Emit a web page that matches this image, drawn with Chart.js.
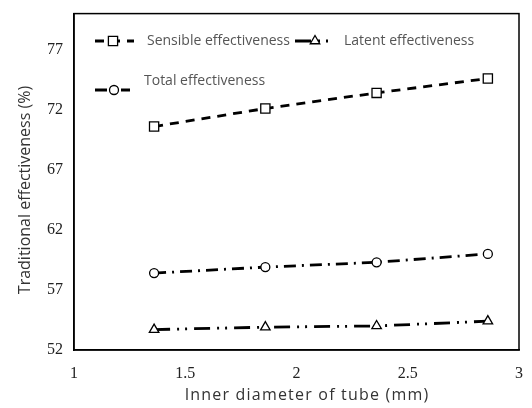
<!DOCTYPE html>
<html><head><meta charset="utf-8">
<script src="https://cdn.jsdelivr.net/npm/chart.js@4.4.1/dist/chart.umd.min.js"></script>
<style>html,body{margin:0;padding:0;background:#fff}#wrap{width:532px;height:408px}</style>
</head><body><div id="wrap"><canvas id="c" width="532" height="408"></canvas></div>
<script>
const diameters = [1.36, 1.86, 2.36, 2.86];
const sensible = [70.6, 72.1, 73.4, 74.6];
const total = [58.4, 58.9, 59.3, 60.0];
const latent = [53.7, 53.9, 54.0, 54.4];
const yTicks = [52, 57, 62, 67, 72, 77];
const xTicks = [1, 1.5, 2, 2.5, 3];
const seriesNames = ['Sensible effectiveness', 'Latent effectiveness', 'Total effectiveness'];
const yTitle = 'Traditional effectiveness (%)';
const xTitle = 'Inner diameter of tube (mm)';

const toPts = arr => arr.map((v, i) => ({x: diameters[i], y: v}));
const base = {showLine: true, borderColor: '#000', borderWidth: 2.8, pointBackgroundColor: '#fff', pointBorderColor: '#000', pointBorderWidth: 1.3, fill: false};
const datasets = [
  Object.assign({}, base, {label: seriesNames[0], data: toPts(sensible), borderDash: [9, 7], pointStyle: 'rect', pointRadius: 6.5}),
  Object.assign({}, base, {label: seriesNames[1], data: toPts(latent), borderDash: [16, 7, 2, 6, 2, 7], pointStyle: 'triangle', pointRadius: 5.5}),
  Object.assign({}, base, {label: seriesNames[2], data: toPts(total), borderDash: [12, 6, 2, 6], pointStyle: 'circle', pointRadius: 4.5})
];

function drawMarker(ctx, style, x, y, r) {
  ctx.save();
  ctx.setLineDash([]);
  ctx.fillStyle = '#fff'; ctx.strokeStyle = '#000'; ctx.lineWidth = 1.3;
  ctx.beginPath();
  if (style === 'rect') { const s = r * Math.SQRT1_2; ctx.rect(x - s, y - s, 2 * s, 2 * s); }
  else if (style === 'circle') { ctx.arc(x, y, r, 0, Math.PI * 2); }
  else { ctx.moveTo(x, y - r); ctx.lineTo(x + r * 0.866, y + r * 0.5); ctx.lineTo(x - r * 0.866, y + r * 0.5); ctx.closePath(); }
  ctx.fill(); ctx.stroke();
  ctx.restore();
}

const customLegend = {
  id: 'customLegend',
  afterDatasetsDraw(chart) {
    const ctx = chart.ctx;
    const items = [
      {ds: 0, x1: 95, x2: 134, mx: 113, my: 41, tx: 147, ty: 41},
      {ds: 1, x1: 295, x2: 334, mx: 315, my: 41, tx: 344, ty: 41},
      {ds: 2, x1: 95, x2: 130, mx: 114, my: 90, tx: 144, ty: 81}
    ];
    items.forEach(it => {
      const d = chart.data.datasets[it.ds];
      ctx.save();
      ctx.strokeStyle = '#000'; ctx.lineWidth = 2.8;
      ctx.setLineDash(d.borderDash);
      ctx.beginPath(); ctx.moveTo(it.x1, it.my); ctx.lineTo(it.x2, it.my); ctx.stroke();
      ctx.restore();
      drawMarker(ctx, d.pointStyle, it.mx, it.my, d.pointRadius);
      ctx.save();
      ctx.fillStyle = '#555'; ctx.font = '14px "Open Sans"'; ctx.textBaseline = 'middle'; ctx.textAlign = 'left';
      ctx.fillText(d.label, it.tx, it.ty);
      ctx.restore();
    });
    const a = chart.chartArea;
    ctx.save(); ctx.strokeStyle = '#000'; ctx.lineWidth = 1.5; ctx.setLineDash([]);
    ctx.strokeRect(a.left, a.top, a.right - a.left, a.bottom - a.top);
    ctx.restore();
    ctx.save();
    ctx.translate(25, 190); ctx.rotate(-Math.PI / 2);
    ctx.fillStyle = '#333'; ctx.font = '16px "Open Sans"'; ctx.textAlign = 'center'; ctx.textBaseline = 'middle';
    ctx.fillText(yTitle, 0, 0);
    ctx.restore();
    ctx.save();
    ctx.fillStyle = '#333'; ctx.font = '16px "Open Sans"'; ctx.textAlign = 'center'; ctx.textBaseline = 'middle';
    ctx.letterSpacing = '1.2px';
    ctx.fillText(xTitle, 307, 395);
    ctx.restore();
  }
};

new Chart(document.getElementById('c'), {
  type: 'scatter',
  data: {datasets},
  options: {
    responsive: false, animation: false, devicePixelRatio: 1,
    layout: {padding: {top: 9, right: 13, left: 0, bottom: 0}},
    plugins: {legend: {display: false}, tooltip: {enabled: false}},
    scales: {
      x: {
        type: 'linear', min: 1, max: 3,
        afterBuildTicks: s => { s.ticks = xTicks.map(v => ({value: v})); },
        afterFit: s => { s.height = 58; },
        grid: {display: false, drawOnChartArea: false, drawTicks: true, tickLength: 5, tickColor: '#000'},
        border: {display: true, color: '#000', width: 1.5},
        ticks: {color: '#222', font: {family: '"Liberation Serif"', size: 16}, padding: 9, maxRotation: 0, callback: v => String(v)},
        title: {display: false}
      },
      y: {
        min: 52, max: 80,
        afterBuildTicks: s => { s.ticks = yTicks.map(v => ({value: v})); },
        afterFit: s => { s.width = 74; },
        grid: {display: false, drawOnChartArea: false, drawTicks: true, tickLength: 7, tickColor: '#000'},
        border: {display: true, color: '#000', width: 1.5},
        ticks: {color: '#222', font: {family: '"Liberation Serif"', size: 16}, padding: 4},
        title: {display: false}
      }
    }
  },
  plugins: [customLegend]
});
</script></body></html>
